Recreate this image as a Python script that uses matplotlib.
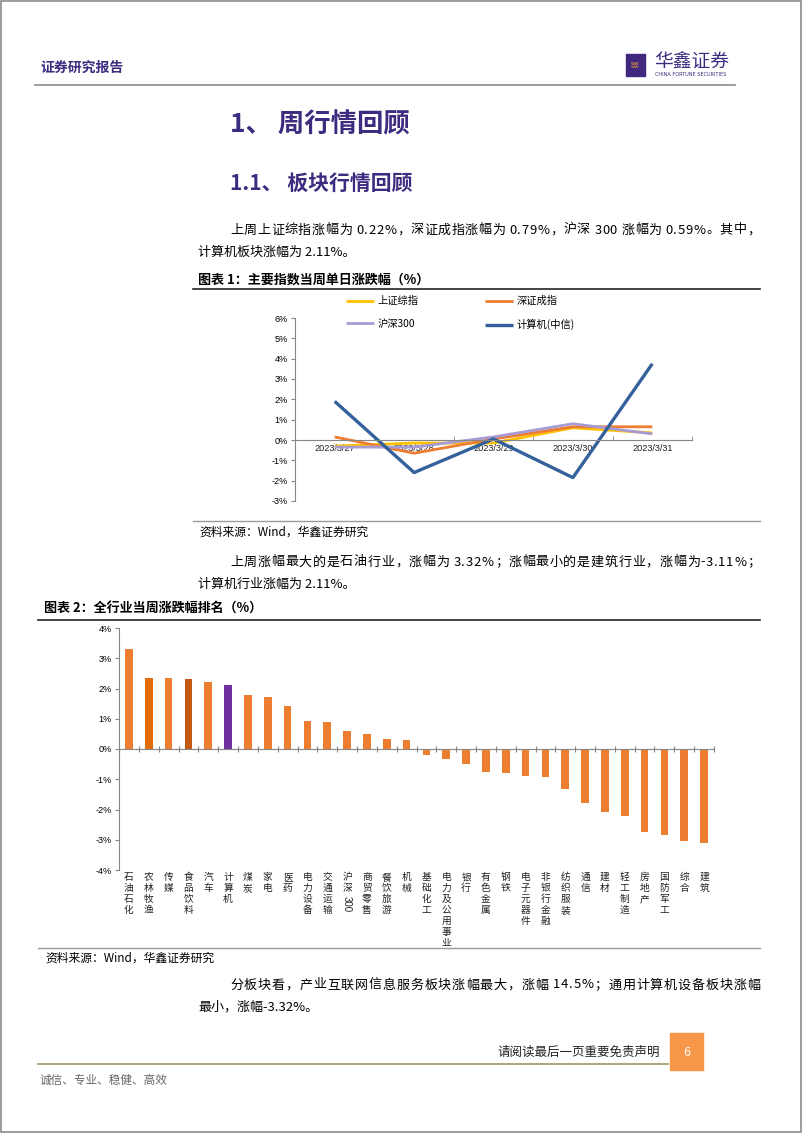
import numpy as np
import matplotlib
matplotlib.use('Agg')
import matplotlib.pyplot as plt
from matplotlib.patches import Rectangle
from matplotlib.lines import Line2D

plt.rcParams['font.family'] = ['Noto Sans CJK SC', 'DejaVu Sans']

# ---- data: chart 1 (daily change of main indices, %) ----
dates = ['2023/3/27', '2023/3/28', '2023/3/29', '2023/3/30', '2023/3/31']
sh_composite = [-0.30, -0.15, -0.15, 0.60, 0.35]
sz_component = [0.15, -0.65, 0.05, 0.65, 0.65]
hs300 = [-0.35, -0.35, 0.15, 0.80, 0.30]
computer_citic = [1.90, -1.60, 0.05, -1.85, 3.75]
series_names = ['上证综指', '深证成指', '沪深300', '计算机(中信)']

# ---- data: chart 2 (weekly change by industry, %) ----
industries = ['石油石化', '农林牧渔', '传媒', '食品饮料', '汽车', '计算机', '煤炭', '家电',
              '医药', '电力设备', '交通运输', '沪深300', '商贸零售', '餐饮旅游', '机械',
              '基础化工', '电力及公用事业', '银行', '有色金属', '钢铁', '电子元器件',
              '非银行金融', '纺织服装', '通信', '建材', '轻工制造', '房地产', '国防军工',
              '综合', '建筑']
weekly_change = [3.32, 2.36, 2.34, 2.31, 2.23, 2.11, 1.80, 1.71, 1.41, 0.93, 0.90, 0.59,
                 0.51, 0.34, 0.29, -0.21, -0.32, -0.48, -0.75, -0.78, -0.90, -0.92, -1.31,
                 -1.79, -2.09, -2.21, -2.76, -2.85, -3.03, -3.11]
y_ticks_1 = [-3, -2, -1, 0, 1, 2, 3, 4, 5, 6]
y_ticks_2 = [-4, -3, -2, -1, 0, 1, 2, 3, 4]

W, H = 802, 1133
PURPLE = '#3D2B80'
BODY = 9.4


def fx(x):
    return x / W


def fy(y):
    return 1 - y / H


fig = plt.figure(figsize=(W / 100, H / 100), dpi=100)
fig.patch.set_facecolor('white')
renderer = fig.canvas.get_renderer()


def hline(x0, x1, y, color, lw):
    fig.add_artist(Line2D([fx(x0), fx(x1)], [fy(y), fy(y)], color=color, lw=lw))


def txt(x, y, s, size, **kw):
    kw.setdefault('va', 'center')
    fig.text(fx(x), fy(y), s, fontsize=size, **kw)


def text_width(s, size):
    t = fig.text(0, 0, s, fontsize=size)
    w = t.get_window_extent(renderer).width
    t.remove()
    return w


def justify(x0, x1, y, s, size, **kw):
    # spread the characters of one line evenly between x0 and x1
    ends = [text_width(s[:k + 1], size) for k in range(len(s))]
    extra = (x1 - x0 - ends[-1]) / (len(s) - 1)
    for k, ch in enumerate(s):
        if ch == ' ':
            continue
        txt(x0 + ends[k] + k * extra, y, ch, size, ha='right', **kw)


# page border
fig.add_artist(Rectangle((0.001, 0.001), 0.998, 0.998, fill=False, ec='#8a8a8a', lw=1.2))

# header
txt(40, 68, '证券研究报告', 10, color=PURPLE, fontweight='bold')
fig.add_artist(Rectangle((fx(626), fy(76)), 19 / W, 22 / H, color='#40287E'))
txt(635.5, 65, 'ʬʬ', 6, color='#F0A030', ha='center', family=['DejaVu Sans'])
txt(654, 62, '华鑫证券', 13.5, color=PURPLE)
txt(655, 74.5, 'CHINA FORTUNE SECURITIES', 3.6, color=PURPLE, family=['DejaVu Sans'])
hline(35, 735, 85, '#8c8c8c', 1.2)

# titles
txt(230, 125, '1、 周行情回顾', 19, color=PURPLE, fontweight='bold')
txt(230, 183, '1.1、 板块行情回顾', 15, color=PURPLE, fontweight='bold')

# paragraph 1
justify(230, 760, 230, '上周上证综指涨幅为 0.22%，深证成指涨幅为 0.79%，沪深 300 涨幅为 0.59%。其中，', BODY)
txt(198, 252, '计算机板块涨幅为 2.11%。', BODY)

# chart 1 caption
txt(198, 280, '图表 1：主要指数当周单日涨跌幅（%）', 9.4, fontweight='bold')
hline(193, 760, 289, '#222222', 1.2)
hline(193, 760, 521, '#9a9a9a', 1.0)
txt(199, 532, '资料来源：Wind，华鑫证券研究', 8.5)

# paragraph 2
justify(230, 760, 562, '上周涨幅最大的是石油行业，涨幅为 3.32%；涨幅最小的是建筑行业，涨幅为-3.11%；', BODY)
txt(198, 584, '计算机行业涨幅为 2.11%。', BODY)

# chart 2 caption
txt(44, 609, '图表 2：全行业当周涨跌幅排名（%）', 9.4, fontweight='bold')
hline(38, 760, 620, '#222222', 1.2)
hline(38, 760, 948, '#9a9a9a', 1.0)
txt(45, 958, '资料来源：Wind，华鑫证券研究', 8.5)

# paragraph 3
justify(230, 760, 985, '分板块看，产业互联网信息服务板块涨幅最大，涨幅 14.5%；通用计算机设备板块涨幅', BODY)
txt(198, 1007, '最小，涨幅-3.32%。', BODY)

# footer
txt(660, 1052, '请阅读最后一页重要免责声明', 9, ha='right', color='#222222')
hline(38, 668, 1064, '#A89F74', 1.3)
fig.add_artist(Rectangle((fx(670), fy(1070)), 33 / W, 37 / H, color='#F79646'))
txt(686.5, 1052, '6', 9, ha='center', color='white')
txt(40, 1080, '诚信、专业、稳健、高效', 8.4, color='#666666')

# ---------------- chart 1: lines ----------------
ax1 = fig.add_axes([fx(295), fy(501), (692 - 295) / W, (501 - 318) / H])
x1 = np.arange(len(dates))
line_colors = ['#FFC000', '#ED7D31', '#A79BD4', '#34619C']
line_widths = [2.0, 2.0, 2.0, 2.4]
handles = []
for vals, name, c, lw in zip([sh_composite, sz_component, hs300, computer_citic],
                             series_names, line_colors, line_widths):
    h, = ax1.plot(x1, vals, color=c, lw=lw, label=name, solid_capstyle='butt')
    handles.append(h)
ax1.set_xlim(-0.5, len(dates) - 0.5)
ax1.set_ylim(-3, 6)
for s in ['top', 'right']:
    ax1.spines[s].set_visible(False)
ax1.spines['bottom'].set_position(('data', 0))
ax1.spines['bottom'].set_color('#868686')
ax1.spines['left'].set_color('#868686')
ax1.set_yticks(y_ticks_1)
ax1.set_yticklabels([f'{v}%' for v in y_ticks_1])
ax1.set_xticks(x1)
ax1.set_xticklabels(dates)
ax1.set_xticks(np.arange(len(dates) + 1) - 0.5, minor=True)
ax1.tick_params(axis='x', which='major', length=0, pad=3, labelsize=6.6,
                labelfontfamily='Liberation Sans', colors='#222222')
ax1.tick_params(axis='x', which='minor', length=3, direction='in', color='#868686')
ax1.tick_params(axis='y', length=3, direction='out', color='#868686', labelsize=6.6,
                labelfontfamily='Liberation Sans', pad=2)
order = [0, 2, 1, 3]
ax1.legend([handles[i] for i in order], [series_names[i] for i in order], ncol=2,
           loc='upper left', bbox_to_anchor=(fx(346), fy(296)), bbox_transform=fig.transFigure,
           frameon=False, fontsize=7.4, handlelength=2.7, handletextpad=0.35,
           columnspacing=6.5, labelspacing=1.25, borderaxespad=0, borderpad=0)

# ---------------- chart 2: bars ----------------
ax2 = fig.add_axes([fx(119), fy(870), (714 - 119) / W, (870 - 628) / H])
x2 = np.arange(len(industries))
highlight = {'农林牧渔': '#E36C0A', '食品饮料': '#C65911', '计算机': '#7030A0'}
bar_colors = [highlight.get(n, '#ED7D31') for n in industries]
ax2.bar(x2, weekly_change, width=0.38, color=bar_colors)
ax2.set_xlim(-0.5, len(industries) - 0.5)
ax2.set_ylim(-4, 4)
for s in ['top', 'right']:
    ax2.spines[s].set_visible(False)
ax2.spines['bottom'].set_position(('data', 0))
ax2.spines['bottom'].set_color('#868686')
ax2.spines['left'].set_color('#868686')
ax2.set_yticks(y_ticks_2)
ax2.set_yticklabels([f'{v}%' for v in y_ticks_2])
ax2.set_xticks(np.arange(len(industries) + 1) - 0.5)
ax2.set_xticklabels([])
ax2.tick_params(axis='x', length=4, direction='inout', color='#868686')
ax2.tick_params(axis='y', length=3, direction='out', color='#868686', labelsize=6.6,
                labelfontfamily='Liberation Sans', pad=2)
for i, name in enumerate(industries):
    cjk = ''.join(ch for ch in name if not ch.isdigit())
    digits = ''.join(ch for ch in name if ch.isdigit())
    ax2.annotate('\n'.join(cjk), xy=(i, -4), xytext=(0, -1.5), textcoords='offset points',
                 ha='center', va='top', fontsize=7, linespacing=1.12, color='#222222')
    if digits:
        ax2.annotate(digits, xy=(i, -4), xytext=(0, -1.5 - 2 * 8.6), textcoords='offset points',
                     ha='center', va='top', fontsize=7, rotation=-90, color='#222222',
                     family=['Liberation Sans'])

fig.savefig('out.png', dpi=100)
